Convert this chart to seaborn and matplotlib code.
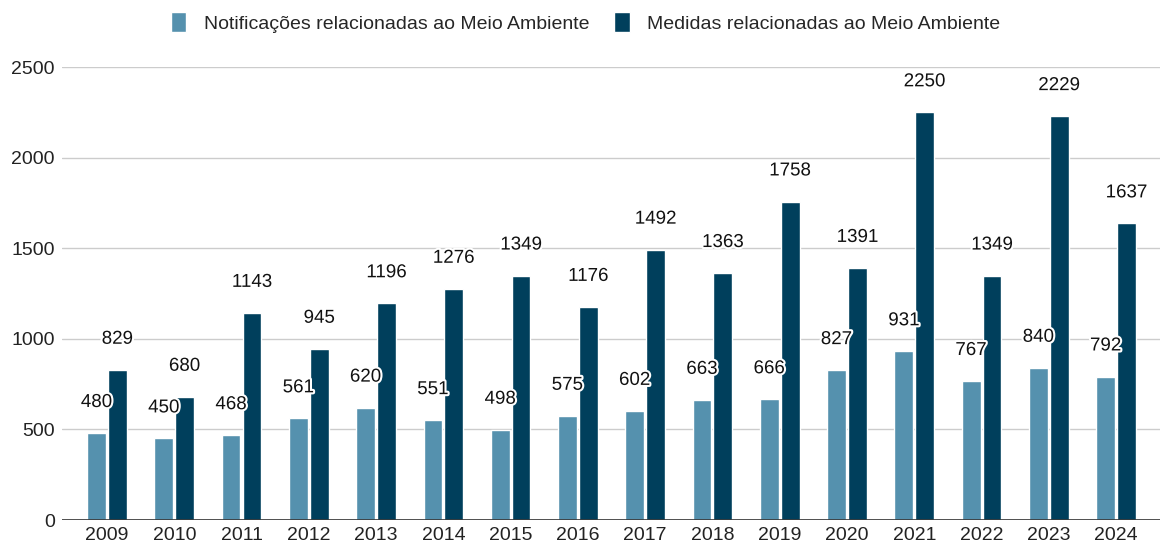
import pandas as pd
import matplotlib.pyplot as plt
import matplotlib.patheffects as pe
import seaborn as sns

# dados
anos = ['2009', '2010', '2011', '2012', '2013', '2014', '2015', '2016',
        '2017', '2018', '2019', '2020', '2021', '2022', '2023', '2024']
notificacoes = [480, 450, 468, 561, 620, 551, 498, 575,
                602, 663, 666, 827, 931, 767, 840, 792]
medidas = [829, 680, 1143, 945, 1196, 1276, 1349, 1176,
           1492, 1363, 1758, 1391, 2250, 1349, 2229, 1637]
series = ['Notificações relacionadas ao Meio Ambiente',
          'Medidas relacionadas ao Meio Ambiente']

df = pd.DataFrame({'ano': anos * 2,
                   'valor': notificacoes + medidas,
                   'serie': [series[0]] * len(anos) + [series[1]] * len(anos)})

sns.set_theme(style='white')
plt.rcParams['font.family'] = ['Liberation Sans', 'DejaVu Sans']

fig = plt.figure(figsize=(11.68, 5.49), dpi=100)
ax = fig.add_axes([0.053, 0.0528, 0.94, 0.825])

sns.barplot(data=df, x='ano', y='valor', hue='serie', ax=ax,
            palette=['#5591AE', '#003F5C'], width=0.62, gap=0.1,
            saturation=1, zorder=3)

ax.set_ylim(0, 2500)
ax.set_xlim(-0.67, 15.65)
ax.set_yticks(range(0, 2501, 500))
ax.yaxis.grid(True, color='#cccccc', linewidth=1, zorder=0)
ax.set_axisbelow(True)
ax.axhline(0, color='#333333', linewidth=1.2, zorder=4)
for s in ax.spines.values():
    s.set_visible(False)
ax.tick_params(axis='both', length=0, labelsize=14, colors='#222222', pad=5)
ax.set_xlabel('')
ax.set_ylabel('')

# rótulos de valores
for cont in ax.containers:
    for barra in cont:
        h = barra.get_height()
        ax.annotate(f'{int(h)}', (barra.get_x() + barra.get_width() / 2, h),
                    xytext=(0, 22), textcoords='offset points',
                    ha='center', va='center', fontsize=13.5, color='#111111',
                    annotation_clip=False, zorder=5,
                    path_effects=[pe.withStroke(linewidth=3, foreground='white')])

sns.move_legend(ax, 'center', bbox_to_anchor=(0.477, 1.099), ncol=2,
                frameon=False, title=None, fontsize=14, handlelength=0.8,
                handleheight=1.2, columnspacing=1.3, handletextpad=0.9)

plt.savefig('out.png', dpi=100)
